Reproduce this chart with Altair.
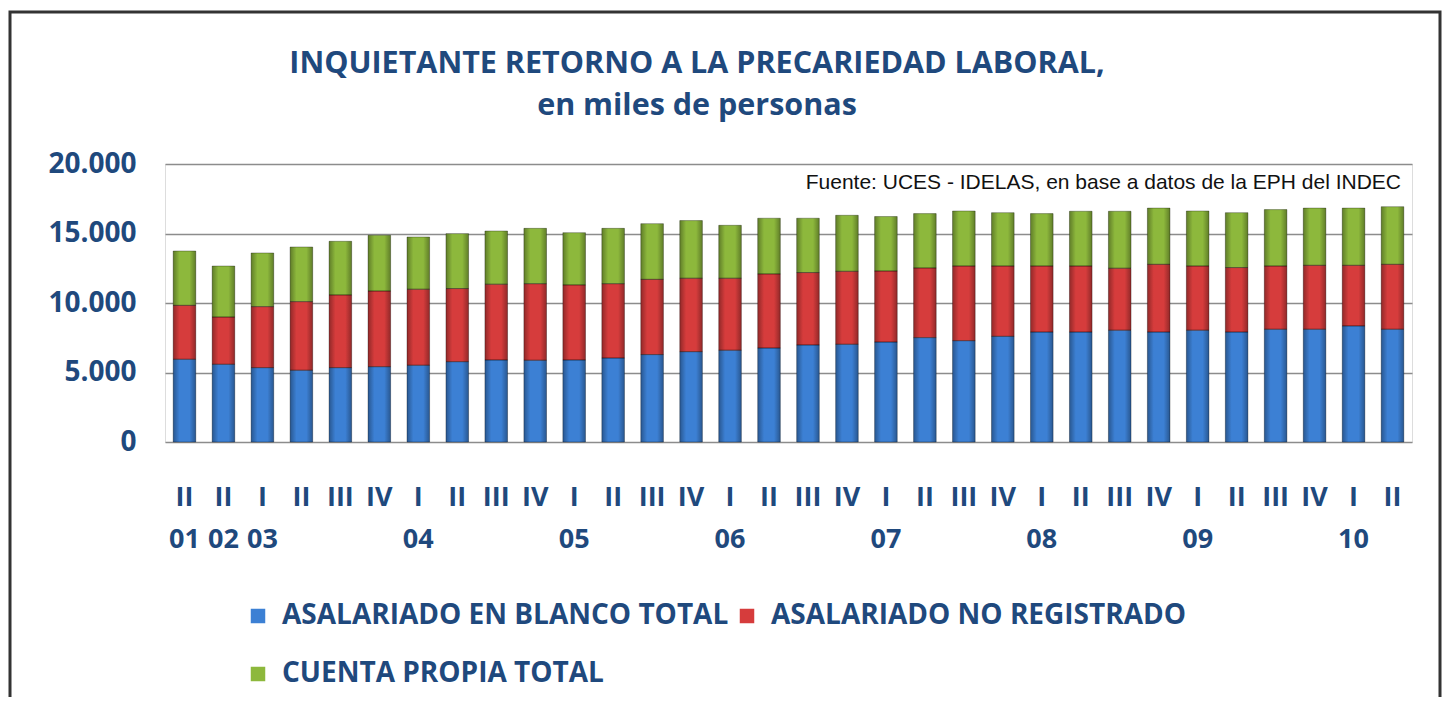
import json
import altair as alt
import pandas as pd

quarters = ["II", "II", "I", "II", "III", "IV", "I", "II", "III", "IV", "I", "II", "III", "IV",
            "I", "II", "III", "IV", "I", "II", "III", "IV", "I", "II", "III", "IV", "I", "II",
            "III", "IV", "I", "II"]
years = ["01", "02", "03", "", "", "", "04", "", "", "", "05", "", "", "", "06", "", "", "",
         "07", "", "", "", "08", "", "", "", "09", "", "", "", "10", ""]

series = ["ASALARIADO EN BLANCO TOTAL", "ASALARIADO NO REGISTRADO", "CUENTA PROPIA TOTAL"]
colors = ["#3C80D4", "#D63C3C", "#8DB83C"]

blanco = [5950, 5590, 5350, 5160, 5350, 5420, 5520, 5780, 5900, 5880, 5900, 6040, 6290, 6500,
          6600, 6760, 6980, 7030, 7190, 7510, 7290, 7600, 7910, 7910, 8040, 7910, 8040, 7910,
          8110, 8110, 8350, 8110]
no_registrado = [3880, 3400, 4390, 4940, 5230, 5440, 5470, 5260, 5450, 5510, 5400, 5350, 5410,
                 5280, 5180, 5330, 5210, 5250, 5110, 5010, 5370, 5060, 4750, 4750, 4460, 4870,
                 4620, 4640, 4550, 4600, 4360, 4670]
cuenta_propia = [3910, 3670, 3860, 3930, 3860, 4010, 3760, 3950, 3830, 3980, 3760, 3980, 4010,
                 4150, 3810, 4010, 3910, 4030, 3920, 3910, 3960, 3840, 3770, 3940, 4100, 4050,
                 3960, 3950, 4060, 4120, 4120, 4150]

title_lines = ["INQUIETANTE RETORNO A LA PRECARIEDAD LABORAL,", "en miles de personas"]
source_text = "Fuente: UCES - IDELAS, en base a datos de la EPH del INDEC"

rows = []
for i in range(len(quarters)):
    for k, vals in enumerate([blanco, no_registrado, cuenta_propia]):
        rows.append({"idx": i, "serie": series[k], "orden": k, "valor": vals[i]})
df = pd.DataFrame(rows)

TEXT_BLUE = "#1F497D"
FONT = "Open Sans"
W, H = 1247, 278

label_expr = "[" + json.dumps(quarters) + "[datum.value], " + json.dumps(years) + "[datum.value]]"

x_enc = alt.X("idx:O", title=None,
              scale=alt.Scale(paddingInner=0.42, paddingOuter=0.21),
              axis=alt.Axis(labelExpr=label_expr, labelAngle=0, domain=False, ticks=False,
                            labelFont=FONT, labelFontSize=27, labelFontWeight="bold",
                            labelColor=TEXT_BLUE, labelLineHeight=42, labelPadding=55,
                            labelBaseline="middle", grid=False))
y_enc = alt.Y("valor:Q", title=None, stack="zero",
              scale=alt.Scale(domain=[0, 20000], nice=False),
              axis=alt.Axis(values=[0, 5000, 10000, 15000, 20000],
                            labelExpr="replace(format(datum.value, ','), ',', '.')",
                            domain=False, ticks=False, grid=True, gridColor="#8C8C8C",
                            gridWidth=1.5, labelFont=FONT, labelFontSize=28,
                            labelFontWeight="bold", labelColor=TEXT_BLUE, labelPadding=29))

base = alt.Chart(df)

bars = base.mark_bar().encode(
    x=x_enc,
    y=y_enc,
    color=alt.Color("serie:N", scale=alt.Scale(domain=series, range=colors),
                    legend=alt.Legend(title=None, orient="none", legendX=79, legendY=438,
                                      direction="horizontal", columns=2, columnPadding=4,
                                      rowPadding=30, symbolType="square", symbolSize=210,
                                      symbolStrokeWidth=0, labelFont=FONT, labelFontSize=28,
                                      labelFontWeight="bold", labelColor=TEXT_BLUE,
                                      labelOffset=10, labelLimit=0)),
    order=alt.Order("orden:Q"),
)

shade = alt.Gradient(
    gradient="linear", x1=0, x2=1, y1=0, y2=0,
    stops=[alt.GradientStop(color="rgba(0,0,0,0.32)", offset=0),
           alt.GradientStop(color="rgba(0,0,0,0)", offset=0.28),
           alt.GradientStop(color="rgba(0,0,0,0)", offset=0.72),
           alt.GradientStop(color="rgba(0,0,0,0.32)", offset=1)],
)
overlay = base.mark_bar(fill=shade, stroke="rgba(0,0,0,0.3)", strokeWidth=1).encode(
    x=alt.X("idx:O"),
    y=alt.Y("valor:Q", stack="zero"),
    detail="serie:N",
    order=alt.Order("orden:Q"),
)

src = alt.Chart(pd.DataFrame({"t": [source_text]})).mark_text(
    align="right", baseline="middle", font="Liberation Sans", fontSize=21, color="#111111"
).encode(x=alt.value(1236), y=alt.value(19), text="t:N")

title_style = dict(align="center", baseline="middle", font=FONT, fontSize=30.5,
                   fontWeight="bold", color=TEXT_BLUE)
t1 = alt.Chart(pd.DataFrame({"t": [title_lines[0]]})).mark_text(**title_style).encode(
    x=alt.value(532), y=alt.value(-100), text="t:N")
t2 = alt.Chart(pd.DataFrame({"t": [title_lines[1]]})).mark_text(**title_style).encode(
    x=alt.value(532), y=alt.value(-58), text="t:N")

border = alt.Chart(pd.DataFrame({"b": [1]})).mark_rect(
    filled=False, stroke="#333333", strokeWidth=3
).encode(x=alt.value(-155), x2=alt.value(1275), y=alt.value(-152), y2=alt.value(560))

chart = alt.layer(border, bars, overlay, src, t1, t2).properties(
    width=W, height=H,
    padding={"left": 157, "top": 156, "right": 30, "bottom": 255},
    autosize=alt.AutoSizeParams(type="none"),
).configure_view(stroke="transparent").configure(background="white")

chart.save("out.html", embed_options={"renderer": "svg", "actions": False})
